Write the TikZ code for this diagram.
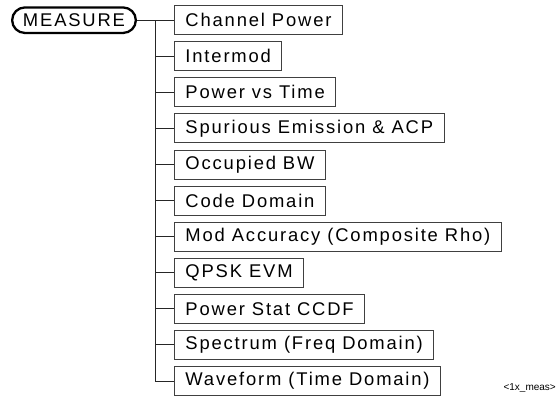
\documentclass[tikz,border=0pt]{standalone}
\usepackage{fontspec}
\setmainfont{Liberation Sans}[LetterSpace=10]
\newfontfamily\tagfont{Liberation Sans}
\newcommand{\mfs}{\fontsize{18.4}{21}\selectfont}
\newcommand{\tfs}{\tagfont\fontsize{10}{12}\selectfont}

\begin{document}
\begin{tikzpicture}[x=1pt,y=-1pt,
   menu/.style={draw=black!75,line width=0.9pt,anchor=west,minimum height=29pt,
                inner xsep=11pt,inner ysep=0pt,font=\mfs},
   key/.style={draw=black,line width=2.3pt,rounded corners=12.7pt,minimum width=123.7pt,
               minimum height=25.5pt,inner sep=0pt,font=\mfs},
   tree/.style={black!85,line width=0.9pt}]
   \useasboundingbox (0,0) rectangle (557,396);
 %
   \node[key ] (meas) at ( 74,  20.2) {MEASURE};
   \node[menu] (b1)   at (174,  20.2) {Channel Power};
   \node[menu] (b2)   at (174,  56.3) {Intermod};
   \node[menu] (b3)   at (174,  92.4) {Power vs Time};
   \node[menu] (b4)   at (174, 128.4) {Spurious Emission \& ACP};
   \node[menu] (b5)   at (174, 164.5) {Occupied BW};
   \node[menu] (b6)   at (174, 200.6) {Code Domain};
   \node[menu] (b7)   at (174, 236.7) {Mod Accuracy (Composite Rho)};
   \node[menu] (b8)   at (174, 272.8) {QPSK EVM};
   \node[menu] (b9)   at (174, 308.8) {Power Stat CCDF};
   \node[menu] (b10)  at (174, 344.9) {Spectrum (Freq Domain)};
   \node[menu] (b11)  at (174, 381.0) {Waveform (Time Domain)};
 %
   \coordinate (top) at (155, 20.2);
   \draw[tree] (meas) -- (b1);
   \draw[tree] (top) |- (b11);
   \draw[tree] (top |- b2) -- (b2);
   \draw[tree] (top |- b3) -- (b3);
   \draw[tree] (top |- b4) -- (b4);
   \draw[tree] (top |- b5) -- (b5);
   \draw[tree] (top |- b6) -- (b6);
   \draw[tree] (top |- b7) -- (b7);
   \draw[tree] (top |- b8) -- (b8);
   \draw[tree] (top |- b9) -- (b9);
   \draw[tree] (top |- b10) -- (b10);
 %
   \node[font=\tfs,anchor=base east,inner sep=0pt] (tag) at (556, 390) {<1x\_meas>};
\end{tikzpicture}
\end{document}
